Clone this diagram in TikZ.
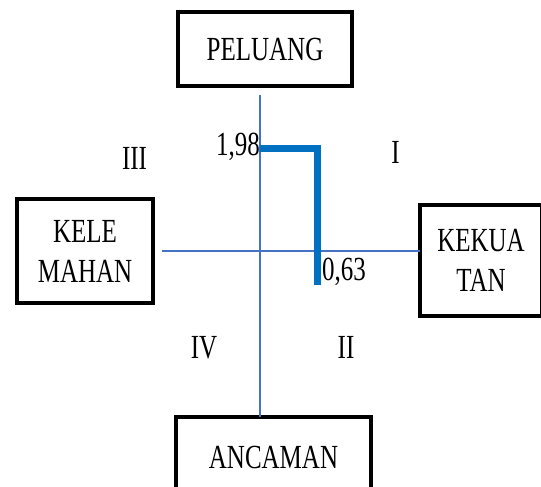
\documentclass[tikz,border=0pt]{standalone}
\usepackage{fontspec}
\setmainfont{Liberation Serif}
\definecolor{axisblue}{HTML}{4472C4}
\definecolor{barblue}{HTML}{0070C0}
\newcommand{\tall}[1]{\scalebox{1}[1.35]{#1}}

\begin{document}
\begin{tikzpicture}[x=1pt, y=-1pt,
  box/.style={draw, line width=4pt, align=center, inner sep=0pt,
    font=\fontsize{25}{40}\selectfont},
  axis/.style={draw=axisblue, line width=1.5pt},
  bar/.style={draw=barblue, line width=7pt},
  lbl/.style={inner sep=0pt, font=\fontsize{25}{30}\selectfont},
  ]
  \useasboundingbox (0,0) rectangle (541,487);

  \node[box, minimum width=174pt, minimum height=74pt] (peluang) at (265,49) {\tall{PELUANG}};
  \node[box, minimum width=136pt, minimum height=104pt] (kelemahan) at (85,251) {\tall{KELE}\\\tall{MAHAN}};
  \node[box, minimum width=122pt, minimum height=111pt] (kekuatan) at (481,260.5) {\tall{KEKUA}\\\tall{TAN}};
  \node[box, minimum width=195pt, minimum height=80pt] (ancaman) at (273.5,457) {\tall{ANCAMAN}};

  \coordinate (o) at (260,251);
  \draw[axis, shorten <=7pt, shorten >=-2pt] (peluang.south -| o) -- (ancaman.north -| o);
  \draw[axis, shorten <=7pt, shorten >=-2pt] (kelemahan.east |- o) -- (kekuatan.west |- o);

  % batas nilai
  \coordinate (peak) at (260,148);
  \coordinate (foot) at (317,285);
  \draw[bar] (peak) -| (foot);
  \node[lbl, anchor=base east] (v198) at (260,155) {\tall{1,98}};
  \node[lbl, anchor=base west] (v063) at (322,280) {\tall{0,63}};

  % kuadran
  \node[lbl, anchor=base] (q1) at (395.5,163) {\tall{I}};
  \node[lbl, anchor=base] (q2) at (346,358) {\tall{II}};
  \node[lbl, anchor=base] (q3) at (134.5,169) {\tall{III}};
  \node[lbl, anchor=base] (q4) at (204,358) {\tall{IV}};
\end{tikzpicture}
\end{document}
